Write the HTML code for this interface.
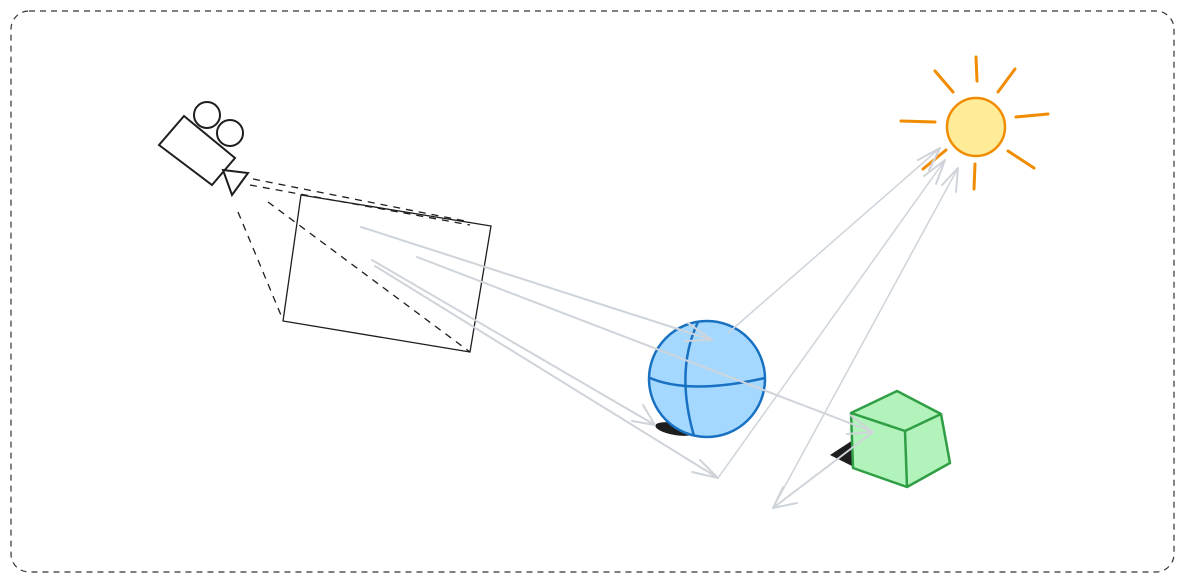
<!DOCTYPE html>
<html><head><meta charset="utf-8"><style>html,body{margin:0;padding:0;background:#fff;width:1184px;height:582px;overflow:hidden}</style></head>
<body>
<svg width="1184" height="582" viewBox="0 0 1184 582" xmlns="http://www.w3.org/2000/svg">
<rect x="11" y="11" width="1163" height="561" rx="18" fill="none" stroke="#333" stroke-width="1.2" stroke-dasharray="6,5"/>
<!-- camera -->
<g fill="none" stroke="#1e1e1e" stroke-width="2">
<polygon points="159,145 184,116 235,158 212,185" fill="#fff"/>
<circle cx="207" cy="115" r="13" fill="#fff"/>
<circle cx="230" cy="133" r="13" fill="#fff"/>
<polygon points="223,170 248,173 232,195" fill="#fff"/>
</g>
<!-- frustum -->
<g stroke="#1e1e1e" stroke-width="1.3" stroke-dasharray="7,6" fill="none">
<line x1="253" y1="179" x2="470" y2="222"/>
<line x1="250" y1="185" x2="470" y2="225"/>
<line x1="238" y1="212" x2="283" y2="320"/>
<line x1="268" y1="202" x2="470" y2="352"/>
</g>
<polygon points="301,195 491,226 470,352 283,321" fill="none" stroke="#1e1e1e" stroke-width="1.3"/>
<!-- shadows -->
<ellipse cx="675" cy="429" rx="20" ry="6" fill="#1e1e1e" transform="rotate(10 675 429)"/>
<polygon points="830,455 853,440 856,468" fill="#1e1e1e"/>
<!-- sphere -->
<circle cx="707" cy="379" r="58" fill="#a5d8ff" stroke="#1971c2" stroke-width="2.5"/>
<path d="M650,378 Q690,395 765,378" fill="none" stroke="#1971c2" stroke-width="2.5"/>
<path d="M698,322 Q675,370 694,436" fill="none" stroke="#1971c2" stroke-width="2.5"/>
<!-- cube -->
<g stroke="#2f9e44" stroke-width="2.5" fill="#b2f2bb" stroke-linejoin="round">
<polygon points="851,413 897,391 941,414 950,463 907,487 853,468"/>
<polyline points="851,413 905,431 941,414" fill="none"/>
<line x1="905" y1="431" x2="907" y2="487"/>
</g>
<!-- sun -->
<g stroke="#f08c00" stroke-width="3" stroke-linecap="round">
<line x1="976" y1="57" x2="977" y2="81"/>
<line x1="1015" y1="69" x2="998" y2="92"/>
<line x1="1016" y1="117" x2="1048" y2="114"/>
<line x1="1008" y1="151" x2="1034" y2="168"/>
<line x1="975" y1="164" x2="974" y2="189"/>
<line x1="946" y1="150" x2="923" y2="169"/>
<line x1="901" y1="121" x2="935" y2="122"/>
<line x1="935" y1="71" x2="953" y2="92"/>
</g>
<circle cx="976" cy="127" r="29" fill="#ffec99" stroke="#f08c00" stroke-width="2.5"/>
<!-- rays -->
<g stroke="#ced4da" stroke-width="2" fill="none" stroke-linecap="round" stroke-linejoin="round">
<line x1="361" y1="227" x2="712" y2="340"/>
<polyline points="688,323 712,340 685,341"/>
<line x1="417" y1="257" x2="873" y2="432"/>
<polyline points="850,415 873,432 847,434"/>
<line x1="372" y1="260" x2="655" y2="425"/>
<polyline points="643,405 655,425 632,421"/>
<line x1="375" y1="266" x2="718" y2="478"/>
<polyline points="700,460 718,478 692,472"/>
<line x1="718" y1="478" x2="945" y2="160" stroke-width="1.5"/>
<polyline points="924,176 945,160 936,184"/>
<line x1="728" y1="333" x2="940" y2="148" stroke-width="1.5"/>
<polyline points="918,160 940,148 929,170"/>
<line x1="873" y1="432" x2="773" y2="508"/>
<polyline points="783,487 773,508 797,503"/>
<line x1="773" y1="508" x2="958" y2="168" stroke-width="1.5"/>
<polyline points="942,185 958,168 956,192"/>
</g>
</svg>
</body></html>
